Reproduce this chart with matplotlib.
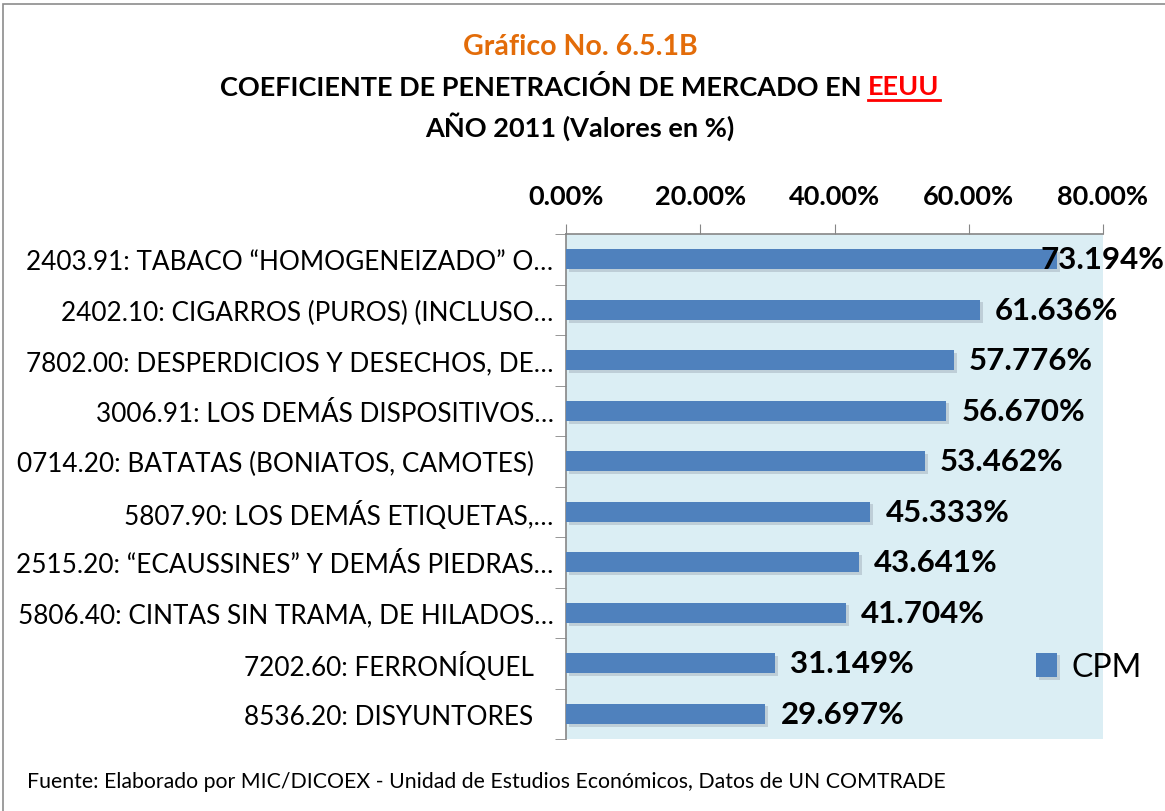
import matplotlib
matplotlib.use("Agg")
import matplotlib.pyplot as plt
import matplotlib.patheffects as pe
import matplotlib.transforms as mtransforms
from matplotlib.patches import Rectangle
from matplotlib.ticker import FuncFormatter
import numpy as np

plt.rcParams['font.family'] = ['Lato', 'DejaVu Sans']

# Data (top to bottom as shown)
categories = [
    "2403.91: TABACO “HOMOGENEIZADO” O…",
    "2402.10: CIGARROS (PUROS) (INCLUSO…",
    "7802.00: DESPERDICIOS Y DESECHOS, DE…",
    "3006.91: LOS DEMÁS DISPOSITIVOS…",
    "0714.20: BATATAS (BONIATOS, CAMOTES) ",
    "5807.90: LOS DEMÁS ETIQUETAS,…",
    "2515.20: “ECAUSSINES” Y DEMÁS PIEDRAS…",
    "5806.40: CINTAS SIN TRAMA, DE HILADOS…",
    "7202.60: FERRONÍQUEL ",
    "8536.20: DISYUNTORES ",
]
cpm = [73.194, 61.636, 57.776, 56.670, 53.462, 45.333, 43.641, 41.704, 31.149, 29.697]
x_ticks = [0, 20, 40, 60, 80]

W, H = 1165, 812
fig = plt.figure(figsize=(W / 100, H / 100), dpi=100)

# outer chart border
fig.patches.append(Rectangle((3 / W, -0.1), 1.2, 1 - 5 / H + 0.1, transform=fig.transFigure,
                             fill=False, edgecolor='#8c8c8c', linewidth=1.2))

ax = fig.add_axes([566 / W, 1 - 740 / H, (1103 - 566) / W, (740 - 235) / H])
ax.set_facecolor('#dbeef4')

y = np.arange(len(categories))
bars = ax.barh(y, cpm, height=0.4, color='#4f81bd', label='CPM', zorder=3)
for b in bars:
    b.set_path_effects([pe.SimplePatchShadow(offset=(2, -2), shadow_rgbFace='#8a94a3', alpha=0.35),
                        pe.Normal()])

ax.set_xlim(0, 80)
ax.set_ylim(len(categories) - 0.5, -0.5)
ax.xaxis.tick_top()
ax.set_xticks(x_ticks)
ax.xaxis.set_major_formatter(FuncFormatter(lambda v, p: f"{v:.2f}%"))
ax.tick_params(axis='x', direction='out', length=7, color='#868686', pad=12,
               labelsize=19.5)
for t in ax.get_xticklabels():
    t.set_fontweight('bold')

ax.set_yticks(y)
# trailing blank in a label keeps its width in the reference
ax.set_yticklabels([c[:-1] + "\u2002\u00a0" if c.endswith(" ") else c for c in categories],
                   fontsize=18.8)
ax.set_yticks(np.arange(len(categories) + 1) - 0.5, minor=True)
ax.tick_params(axis='y', which='major', length=0, pad=9)
ax.tick_params(axis='y', which='minor', length=8, color='#868686')

for s in ['right', 'bottom']:
    ax.spines[s].set_visible(False)
for s in ['top', 'left']:
    ax.spines[s].set_color('#868686')
    ax.spines[s].set_linewidth(1.2)

# value labels
fig_y = mtransforms.blended_transform_factory(fig.transFigure, ax.transData)
for yi, v in zip(y, cpm):
    if v > 70:
        ax.text(1164 / W, yi, f"{v:.3f}%", transform=fig_y, ha='right', va='center',
                fontsize=22.5, fontweight='bold', zorder=5)
    else:
        ax.annotate(f"{v:.3f}%", (v, yi), xytext=(11, 0), textcoords='offset points',
                    ha='left', va='center', fontsize=22.5, fontweight='bold', zorder=5)

# legend
fig.legend(handles=[bars], labels=['CPM'], loc='center left',
           bbox_to_anchor=(1036 / W, 1 - 668 / H), frameon=False, fontsize=23,
           borderpad=0, borderaxespad=0,
           handlelength=0.65, handleheight=0.8, handletextpad=0.45)

# titles
cx = 580 / W
tsize = 19.5
fig.text(cx, 1 - 47 / H, "Gráfico No. 6.5.1B", ha='center', va='center', fontsize=20.5,
         fontweight='bold', color='#e36c09')
fig.canvas.draw()
r = fig.canvas.get_renderer()
main = "COEFICIENTE DE PENETRACIÓN DE MERCADO EN\u00a0"
tmp1 = fig.text(0, 0, main, fontsize=tsize, fontweight='bold')
tmp2 = fig.text(0, 0, "EEUU", fontsize=tsize, fontweight='bold')
w1 = tmp1.get_window_extent(r).width
w2 = tmp2.get_window_extent(r).width
tmp1.remove(); tmp2.remove()
x0 = cx * W - (w1 + w2) / 2
fig.text(x0 / W, 1 - 87 / H, main, ha='left', va='center', fontsize=tsize, fontweight='bold')
fig.text((x0 + w1) / W, 1 - 87 / H, "EEUU", ha='left', va='center', fontsize=tsize,
         fontweight='bold', color='#ff0000')
fig.add_artist(plt.Line2D([(x0 + w1) / W, (x0 + w1 + w2) / W], [1 - 101 / H, 1 - 101 / H],
                          transform=fig.transFigure, color='#ff0000', linewidth=2))
fig.text(cx, 1 - 127 / H, "AÑO 2011 (Valores en %)", ha='center', va='center', fontsize=tsize,
         fontweight='bold')

fig.text(27 / W, 1 - 782 / H,
         "Fuente: Elaborado por MIC/DICOEX - Unidad de Estudios Económicos, Datos de UN COMTRADE",
         ha='left', va='center', fontsize=15.3)

fig.savefig('out.png', dpi=100)
